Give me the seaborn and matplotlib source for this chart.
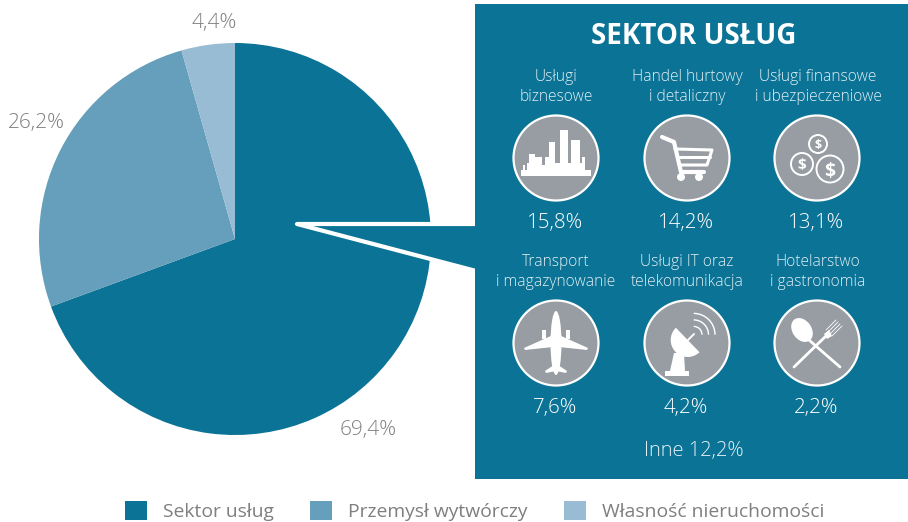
import matplotlib
matplotlib.use('Agg')
import matplotlib.pyplot as plt
from matplotlib.patches import Circle, Ellipse, Polygon, Rectangle, Wedge
import seaborn as sns

sectors = ['Sektor usług', 'Przemysł wytwórczy', 'Własność nieruchomości']
shares = [69.4, 26.2, 4.4]
service_labels = ['Usługi\nbiznesowe', 'Handel hurtowy\ni detaliczny', 'Usługi finansowe\ni ubezpieczeniowe',
                  'Transport\ni magazynowanie', 'Usługi IT oraz\ntelekomunikacja', 'Hotelarstwo\ni gastronomia']
service_shares = [15.8, 14.2, 13.1, 7.6, 4.2, 2.2]
other_share = 12.2

TEAL = '#0a7396'
GREY = '#979da3'
TEXT = '#e4f0f4'
LABEL = '#7f7f7f'


def pct(v):
    return f'{v:.1f}'.replace('.', ',') + '%'


def skyline(ax, x, y):
    towers = [(-33, -31, 7), (-29, -27, 5), (-27, -21, -4), (-21, -14, -1), (-14, -11, 7), (-11, -7, -1),
              (-7, -1, -16), (-1, 4, 5), (4, 12, -28), (12, 15, 5), (15, 24, -18), (24, 26, 5), (26, 29, -1)]
    ax.add_patch(Rectangle((x - 35, y + 12), 70, 5.5, color='white', lw=0))
    for x0, x1, top in towers:
        ax.add_patch(Rectangle((x + x0, y + top), x1 - x0, 14 - top, color='white', lw=0))


def cart(ax, x, y):
    kw = dict(color='white', lw=2.2, solid_capstyle='round', solid_joinstyle='round')
    ax.plot([x - 25, x - 13, x - 6, x + 17], [y - 21, y - 16, y + 14, y + 14], **dict(kw, lw=3))
    ax.plot([x - 12, x + 25, x + 20, x - 6], [y - 9, y - 8, y + 7, y + 7], **kw)
    ax.plot([x - 9, x + 23], [y - 1, y - 1], **kw)
    ax.add_patch(Circle((x - 6, y + 19), 4, color='white', lw=0))
    ax.add_patch(Circle((x + 12, y + 19), 4, color='white', lw=0))


def coins(ax, x, y):
    for dx, dy, r, size in [(1, -14, 9, 9), (-15, 6, 11, 11), (13, 11, 13.5, 14)]:
        ax.add_patch(Circle((x + dx, y + dy), r, fill=False, ec='white', lw=1.4))
        ax.text(x + dx, y + dy, '$', color='white', fontsize=size, fontweight='bold',
                ha='center', va='center_baseline')


def plane(ax, x, y):
    ax.add_patch(Ellipse((x, y), 11, 64, color='white', lw=0))
    for s in (-1, 1):
        ax.add_patch(Polygon([(x + s * 3, y - 8), (x + s * 32, y + 5), (x + s * 31, y + 7), (x + s * 3, y + 4)],
                             color='white', lw=0))
        ax.add_patch(Polygon([(x + s * 2, y + 22), (x + s * 11, y + 28), (x + s * 10, y + 30), (x, y + 28)],
                             color='white', lw=0))
        ax.add_patch(Rectangle((x + s * 12 - 2, y - 13), 4, 9, color='white', lw=0))


def dish(ax, x, y):
    ax.add_patch(Rectangle((x - 22, y + 28), 24, 5, color='white', lw=0))
    ax.add_patch(Polygon([(x - 17, y + 28), (x - 13, y + 10), (x - 3, y + 10), (x - 2, y + 28)],
                         color='white', lw=0))
    ax.add_patch(Wedge((x + 0.7, y - 3), 17, 46, 226, color='white', lw=0))
    ax.plot([x + 1, x + 7], [y - 3, y - 9], color='white', lw=1.4)
    for r in (9, 15.5, 22):
        ax.add_patch(Wedge((x + 6.7, y - 8.3), r, 270, 360, width=1.4, color='white', lw=0))


def cutlery(ax, x, y):
    ax.add_patch(Ellipse((x - 15, y - 13), 19, 26, angle=-35, color='white', lw=0))
    ax.plot([x - 8, x + 23], [y - 3, y + 24], color='white', lw=2, solid_capstyle='round')
    ax.plot([x - 23, x + 10], [y + 24, y - 8], color='white', lw=2, solid_capstyle='round')
    ax.add_patch(Polygon([(x + 7, y - 9), (x + 12, y - 13), (x + 15, y - 7), (x + 10, y - 4)],
                         color='white', lw=0))
    for dx, dy in [(19, -23), (21, -21), (23, -19), (25, -17)]:
        ax.plot([x + dx - 10, x + dx], [y + dy + 10, y + dy], color='white', lw=0.6)


sns.set_theme(style='white')
plt.rcParams['font.family'] = ['Open Sans', 'DejaVu Sans']

fig = plt.figure(figsize=(9.08, 5.22), dpi=100)

# pie axes, 392 px wide, centre at 235,239
pie_ax = fig.add_axes([39 / 908, 1 - 435 / 522, 392 / 908, 392 / 522])
colors = sns.color_palette([TEAL, '#659fbb', '#97bcd3'])
wedges, _ = pie_ax.pie(shares, colors=colors, startangle=90, counterclock=False, radius=1,
                       wedgeprops=dict(lw=0))
pie_ax.set_xlim(-1, 1)
pie_ax.set_ylim(-1, 1)

# overlay in pixel coordinates
ax = fig.add_axes([0, 0, 1, 1])
ax.set_xlim(0, 908)
ax.set_ylim(522, 0)
ax.axis('off')
ax.patch.set_alpha(0)

ax.add_patch(Polygon([(297, 224), (480, 224), (480, 272)], closed=True, fc=TEAL, ec='white', lw=3,
                     joinstyle='round', zorder=1))
ax.add_patch(Rectangle((475, 4), 433, 475, fc=TEAL, lw=0, zorder=2))

for share, (px, py) in zip(shares, [(368, 430), (36, 123), (214, 23)]):
    ax.text(px, py, pct(share), color=LABEL, fontsize=15, fontweight='light', ha='center', va='center')

ax.text(694, 37, 'SEKTOR USŁUG', color='white', fontsize=20, fontweight='bold', ha='center', va='center', zorder=3)

xs = [556, 687, 817]
icons = [skyline, cart, coins, plane, dish, cutlery]
for i, (label, share) in enumerate(zip(service_labels, service_shares)):
    x = xs[i % 3]
    row = i // 3
    y = 158 if row == 0 else 343
    ax.text(x + (1 if i % 3 == 2 else 0), y - 71, label, color=TEXT, fontsize=11.2, fontweight='light',
            ha='center', va='center', linespacing=1.3, zorder=3)
    ax.add_patch(Circle((x, y), 42.5, fc=GREY, ec='white', lw=1.6, zorder=3))
    n = len(ax.patches), len(ax.lines), len(ax.texts)
    icons[i](ax, x, y)
    for a in ax.patches[n[0]:] + ax.lines[n[1]:] + ax.texts[n[2]:]:
        a.set_zorder(4)
    ax.text(x - 1, y + 65, pct(share), color='white', fontsize=14.8, fontweight='light',
            ha='center', va='center', zorder=3)

ax.text(694, 451, f'Inne {pct(other_share)}', color=TEXT, fontsize=14.5, fontweight='light', ha='center',
        va='center', zorder=3)

fig.legend(wedges, sectors, ncol=3, loc='lower left', bbox_to_anchor=(125 / 908, 1 / 522), frameon=False,
           fontsize=13.9, labelcolor=LABEL, handlelength=1.14, handleheight=1.14, handletextpad=0.83,
           columnspacing=1.87, borderpad=0, borderaxespad=0)

fig.savefig('out.png', dpi=100)
